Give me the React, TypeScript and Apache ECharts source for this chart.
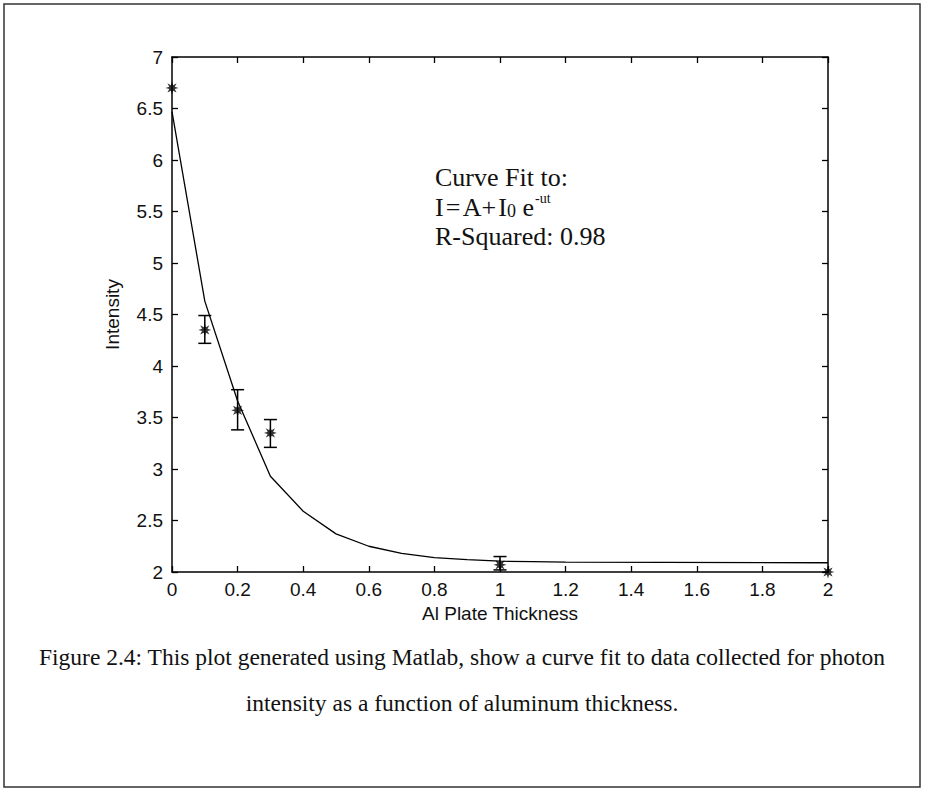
import React, { useEffect, useRef } from "react";
import * as echarts from "echarts";

// ---- data ----
const fitX = [0, 0.1, 0.2, 0.3, 0.4, 0.5, 0.6, 0.7, 0.8, 0.9, 1.0, 1.1, 1.2, 2.0];
const fitY = [6.47, 4.63, 3.66, 2.93, 2.59, 2.37, 2.25, 2.18, 2.14, 2.12, 2.105, 2.1, 2.095, 2.09];

const dataX = [0, 0.1, 0.2, 0.3, 1, 2];
const dataY = [6.7, 4.35, 3.57, 3.35, 2.07, 2.0];
const errLow = [null, 4.22, 3.38, 3.21, 2.02, null];
const errHigh = [null, 4.49, 3.77, 3.48, 2.15, null];

const xTicks = { min: 0, max: 2, step: 0.2 };
const yTicks = { min: 2, max: 7, step: 0.5 };

const annotLines = ["Curve Fit to:", "I\u200A=\u200AA+\u200AI", "0", " e", "-ut", "R-Squared: 0.98"];
const captionLines = [
  "Figure 2.4: This plot generated using Matlab, show a curve fit to data collected for photon",
  "intensity as a function of aluminum thickness.",
];

const SANS = '"Liberation Sans", Arial, sans-serif';
const SERIF = '"Liberation Serif", "Times New Roman", serif';

const STAR =
  "path://M10,0 L4.2,1.7 L7.07,7.07 L1.7,4.2 L0,10 L-1.7,4.2 L-7.07,7.07 L-4.2,1.7 L-10,0 L-4.2,-1.7 L-7.07,-7.07 L-1.7,-4.2 L0,-10 L1.7,-4.2 L7.07,-7.07 L4.2,-1.7 Z";

function measure(text: string, font: string): number {
  const c = document.createElement("canvas").getContext("2d");
  if (!c) return text.length * 10;
  c.font = font;
  return c.measureText(text).width;
}

export default function App() {
  const ref = useRef<HTMLDivElement>(null);

  useEffect(() => {
    if (!ref.current) return;
    const chart = echarts.init(ref.current, undefined, { renderer: "svg" });

    const aFont = 26;
    const subFont = 18;
    const supFont = 14;
    const ax = 435;
    const w1 = measure(annotLines[1], `${aFont}px ${SERIF}`);
    const wSub = measure(annotLines[2], `${subFont}px ${SERIF}`);
    const wE = measure(annotLines[3], `${aFont}px ${SERIF}`);

    const fitData = fitX.map((x, i) => [x, fitY[i]]);
    const ptData = dataX.map((x, i) => [x, dataY[i]]);
    const errData = dataX
      .map((x, i) => [x, errLow[i], errHigh[i]])
      .filter((d) => d[1] != null && d[2] != null);

    const axisCommon = {
      axisLine: { show: true, onZero: false, lineStyle: { color: "#000", width: 1.5 } },
      axisTick: { show: true, inside: true, length: 6, lineStyle: { color: "#000", width: 1.3 } },
      splitLine: { show: false },
    };
    const labelFont = 19;

    chart.setOption({
      animation: false,
      backgroundColor: "#fff",
      grid: { left: 172, right: 97, top: 57, bottom: 217, containLabel: false },
      xAxis: [
        {
          type: "value",
          position: "bottom",
          min: xTicks.min,
          max: xTicks.max,
          interval: xTicks.step,
          ...axisCommon,
          axisLabel: { color: "#111", fontSize: labelFont, fontFamily: SANS, margin: 8 },
          name: "Al Plate Thickness",
          nameLocation: "middle",
          nameGap: 30,
          nameTextStyle: { color: "#111", fontSize: labelFont, fontFamily: SANS },
        },
        {
          type: "value",
          position: "top",
          min: xTicks.min,
          max: xTicks.max,
          interval: xTicks.step,
          ...axisCommon,
          axisLabel: { show: false },
        },
      ],
      yAxis: [
        {
          type: "value",
          position: "left",
          min: yTicks.min,
          max: yTicks.max,
          interval: yTicks.step,
          ...axisCommon,
          axisLabel: { color: "#111", fontSize: labelFont, fontFamily: SANS, margin: 9 },
          name: "Intensity",
          nameLocation: "middle",
          nameGap: 50,
          nameTextStyle: { color: "#111", fontSize: labelFont, fontFamily: SANS },
        },
        {
          type: "value",
          position: "right",
          min: yTicks.min,
          max: yTicks.max,
          interval: yTicks.step,
          ...axisCommon,
          axisLabel: { show: false },
        },
      ],
      series: [
        {
          type: "line",
          data: fitData,
          showSymbol: false,
          symbol: "none",
          lineStyle: { color: "#000", width: 1.3 },
          z: 2,
        },
        {
          type: "custom",
          data: errData,
          renderItem: (params: any, api: any) => {
            const x = api.value(0);
            const lo = api.coord([x, api.value(1)]);
            const hi = api.coord([x, api.value(2)]);
            const w = 6.5;
            const st = { stroke: "#000", lineWidth: 1.5 };
            return {
              type: "group",
              children: [
                { type: "line", shape: { x1: lo[0], y1: lo[1], x2: hi[0], y2: hi[1] }, style: st },
                { type: "line", shape: { x1: lo[0] - w, y1: lo[1], x2: lo[0] + w, y2: lo[1] }, style: st },
                { type: "line", shape: { x1: hi[0] - w, y1: hi[1], x2: hi[0] + w, y2: hi[1] }, style: st },
              ],
            };
          },
          z: 3,
        },
        {
          type: "scatter",
          data: ptData,
          symbol: STAR,
          symbolSize: 13,
          itemStyle: { color: "#000" },
          z: 4,
        },
      ],
      graphic: [
        {
          type: "rect",
          shape: { x: 4, y: 4, width: 916, height: 783 },
          style: { fill: "none", stroke: "#333", lineWidth: 1.5 },
          z: -1,
        },
        {
          type: "text",
          x: ax,
          y: 177,
          style: { text: annotLines[0], fontSize: aFont, fontFamily: SERIF, fill: "#111", verticalAlign: "middle" },
        },
        {
          type: "text",
          x: ax,
          y: 207,
          style: { text: annotLines[1], fontSize: aFont, fontFamily: SERIF, fill: "#111", verticalAlign: "middle" },
        },
        {
          type: "text",
          x: ax + w1,
          y: 211,
          style: { text: annotLines[2], fontSize: subFont, fontFamily: SERIF, fill: "#111", verticalAlign: "middle" },
        },
        {
          type: "text",
          x: ax + w1 + wSub,
          y: 207,
          style: { text: annotLines[3], fontSize: aFont, fontFamily: SERIF, fill: "#111", verticalAlign: "middle" },
        },
        {
          type: "text",
          x: ax + w1 + wSub + wE + 1,
          y: 198,
          style: { text: annotLines[4], fontSize: supFont, fontFamily: SERIF, fill: "#111", verticalAlign: "middle" },
        },
        {
          type: "text",
          x: ax,
          y: 236,
          style: { text: annotLines[5], fontSize: aFont, fontFamily: SERIF, fill: "#111", verticalAlign: "middle" },
        },
        {
          type: "text",
          x: 462,
          y: 657,
          style: { text: captionLines[0], fontSize: 23.5, fontFamily: SERIF, fill: "#111", align: "center", verticalAlign: "middle" },
        },
        {
          type: "text",
          x: 462,
          y: 703,
          style: { text: captionLines[1], fontSize: 23.5, fontFamily: SERIF, fill: "#111", align: "center", verticalAlign: "middle" },
        },
      ],
    });

    return () => chart.dispose();
  }, []);

  return (
    <div
      ref={ref}
      style={{ position: "fixed", left: 0, top: 0, width: 925, height: 789, background: "#fff" }}
    />
  );
}
